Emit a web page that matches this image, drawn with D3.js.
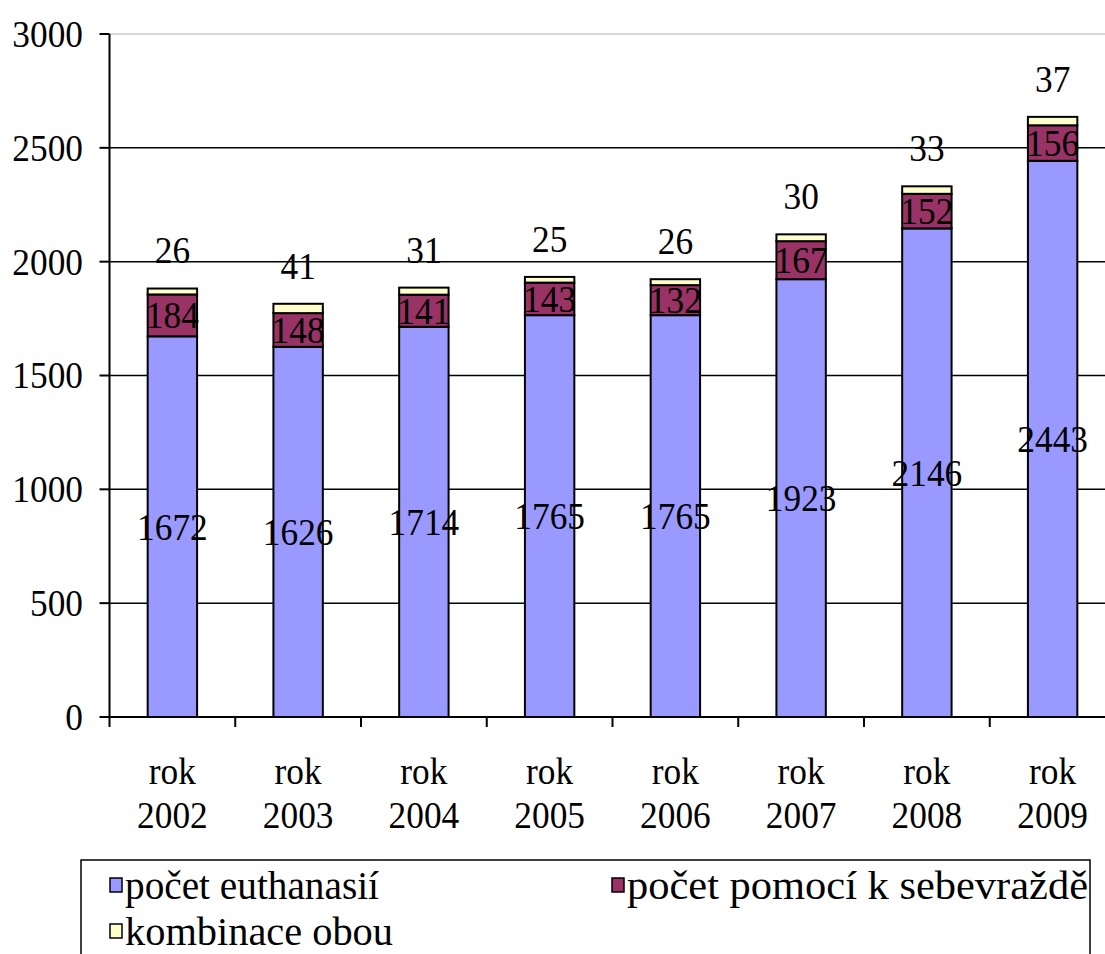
<!DOCTYPE html>
<html>
<head>
<meta charset="utf-8">
<script src="https://cdn.jsdelivr.net/npm/d3@7"></script>
<style>
  html, body { margin: 0; padding: 0; background: #fff; }
  svg { display: block; }
</style>
</head>
<body>
<svg id="chart" width="1105" height="954"></svg>
<script>
// Yearly counts
const years = ["2002", "2003", "2004", "2005", "2006", "2007", "2008", "2009"];
const euthanasia = [1672, 1626, 1714, 1765, 1765, 1923, 2146, 2443];
const assistedSuicide = [184, 148, 141, 143, 132, 167, 152, 156];
const combination = [26, 41, 31, 25, 26, 30, 33, 37];
const yTicks = [0, 500, 1000, 1500, 2000, 2500, 3000];

const seriesNames = ["počet euthanasií", "počet pomocí k sebevraždě", "kombinace obou"];
const seriesColors = ["#9999FF", "#993366", "#FFFFCC"];

const W = 1105, H = 954;
const plotLeft = 109.5, plotRight = 1115.5, plotTop = 34, plotBottom = 717;
const FS = 38, SX = 0.93;

const svg = d3.select("#chart");

const rows = years.map((yr, i) => ({
  year: yr,
  euth: euthanasia[i],
  assist: assistedSuicide[i],
  combo: combination[i]
}));
const keys = ["euth", "assist", "combo"];
const stacked = d3.stack().keys(keys)(rows);

const x = d3.scaleBand().domain(years).range([plotLeft, plotRight]).padding(0);
const y = d3.scaleLinear().domain([0, 3000]).range([plotBottom, plotTop]);
const barW = x.bandwidth() * 0.393;

// text helper: slightly condensed serif
function label(g, tx, ty, str, anchor, size, sx) {
  return g.append("text")
    .attr("transform", `translate(${tx},${ty}) scale(${sx || SX},1)`)
    .attr("text-anchor", anchor || "middle")
    .attr("dominant-baseline", "central")
    .attr("font-family", "Liberation Serif")
    .attr("font-size", size || FS)
    .attr("fill", "#000")
    .text(str);
}

// gridlines
const grid = svg.append("g");
yTicks.filter(t => t > 0).forEach(t => {
  grid.append("line")
    .attr("x1", plotLeft).attr("x2", W)
    .attr("y1", y(t)).attr("y2", y(t))
    .attr("stroke", t === 3000 ? "#c8c8c8" : "#000")
    .attr("stroke-width", 1.5);
});

// bars
const barsG = svg.append("g");
stacked.forEach((layer, li) => {
  barsG.selectAll(null)
    .data(layer)
    .enter().append("rect")
    .attr("x", d => x(d.data.year) + (x.bandwidth() - barW) / 2)
    .attr("y", d => y(d[1]))
    .attr("width", barW)
    .attr("height", d => y(d[0]) - y(d[1]))
    .attr("fill", seriesColors[li])
    .attr("stroke", "#000")
    .attr("stroke-width", 2);
});

// axes
const axG = svg.append("g");
axG.append("line")
  .attr("x1", plotLeft).attr("x2", plotLeft)
  .attr("y1", plotTop).attr("y2", plotBottom + 10)
  .attr("stroke", "#000").attr("stroke-width", 2);
axG.append("line")
  .attr("x1", plotLeft).attr("x2", W)
  .attr("y1", plotBottom).attr("y2", plotBottom)
  .attr("stroke", "#000").attr("stroke-width", 2);
yTicks.forEach(t => {
  axG.append("line")
    .attr("x1", plotLeft - 10).attr("x2", plotLeft)
    .attr("y1", y(t)).attr("y2", y(t))
    .attr("stroke", "#000").attr("stroke-width", 2);
  label(axG, 83, y(t), String(t), "end");
});
years.forEach(yr => {
  const bx = x(yr) + x.bandwidth();
  axG.append("line")
    .attr("x1", bx).attr("x2", bx)
    .attr("y1", plotBottom).attr("y2", plotBottom + 10)
    .attr("stroke", "#000").attr("stroke-width", 2);
  const cx = x(yr) + x.bandwidth() / 2;
  label(axG, cx, 771, "rok");
  label(axG, cx, 815, yr);
});

// value labels: inner segments centred, the thin top segment labelled above the bar
const lblG = svg.append("g");
stacked.forEach((layer, li) => {
  layer.forEach(d => {
    const cx = x(d.data.year) + x.bandwidth() / 2;
    const v = d[1] - d[0];
    const cy = li < 2 ? y((d[0] + d[1]) / 2) : y(d[1]) - 38;
    label(lblG, cx, cy, String(v));
  });
});

// legend
const lg = svg.append("g");
lg.append("rect")
  .attr("x", 81).attr("y", 860)
  .attr("width", 1009).attr("height", 120)
  .attr("fill", "#fff").attr("stroke", "#000").attr("stroke-width", 1.5);
const legendPos = [[110, 885], [612, 885], [110, 931]];
const legendTextWidth = [254, 461, 268];
seriesNames.forEach((name, i) => {
  const [lx, ly] = legendPos[i];
  lg.append("rect")
    .attr("x", lx).attr("y", ly - 7)
    .attr("width", 12).attr("height", 14)
    .attr("fill", seriesColors[i]).attr("stroke", "#000").attr("stroke-width", 1.5);
  label(lg, lx + 15, ly, name, "start", 39, 1)
    .attr("textLength", legendTextWidth[i])
    .attr("lengthAdjust", "spacingAndGlyphs");
});
</script>
</body>
</html>
